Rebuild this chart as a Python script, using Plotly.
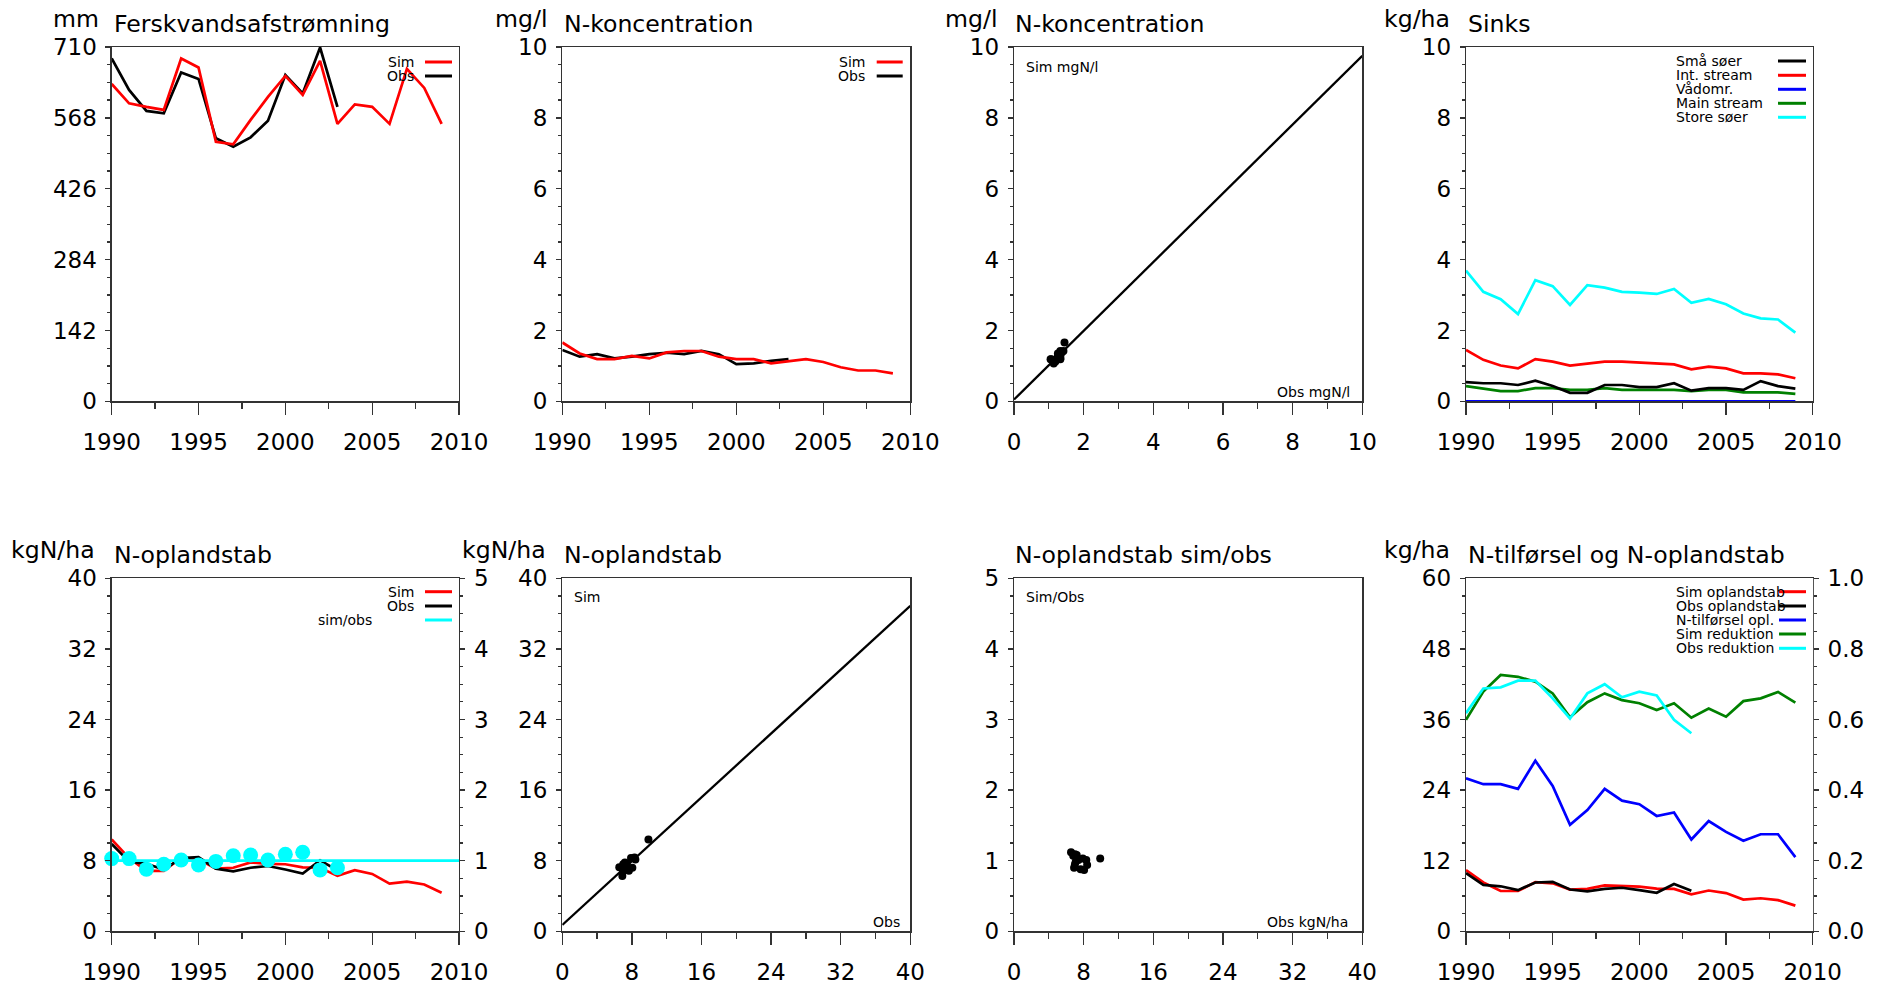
import plotly.graph_objects as go

W, H = 1879, 986
FONT = "DejaVu Sans"
AX = "#333333"

# ---------------- data ----------------
years_sim = list(range(1990, 2010))
years_obs = list(range(1990, 2004))

runoff_sim = [636, 597, 590, 584, 687, 669, 520, 515, 564, 610, 652, 614, 682, 556, 595, 590, 556, 666, 628, 556]
runoff_obs = [687, 624, 582, 577, 659, 646, 527, 510, 529, 562, 654, 617, 709, 590]

conc_sim = [1.66, 1.35, 1.19, 1.19, 1.28, 1.21, 1.38, 1.42, 1.42, 1.26, 1.19, 1.19, 1.07, 1.12,
            1.19, 1.11, 0.96, 0.87, 0.87, 0.79]
conc_obs = [1.45, 1.26, 1.33, 1.21, 1.26, 1.33, 1.37, 1.33, 1.42, 1.33, 1.05, 1.07, 1.14, 1.19]
conc_fit_x = [0, 10]
conc_fit_y = [0.05, 9.75]

sink_sma_soer = [0.54, 0.51, 0.51, 0.46, 0.58, 0.43, 0.24, 0.24, 0.46, 0.46, 0.40, 0.40, 0.51, 0.30,
                 0.37, 0.37, 0.32, 0.57, 0.43, 0.36]
sink_int_stream = [1.45, 1.17, 1.01, 0.93, 1.19, 1.12, 1.01, 1.07, 1.12, 1.12, 1.09, 1.05, 1.04, 0.90,
                   0.98, 0.93, 0.79, 0.79, 0.76, 0.65]
sink_vadomr = [0.0, 0.0, 0.0, 0.0, 0.0, 0.0, 0.0, 0.0, 0.0, 0.0, 0.0, 0.0, 0.0, 0.0,
               0.0, 0.0, 0.0, 0.0, 0.0, 0.0]
sink_main_stream = [0.43, 0.37, 0.29, 0.29, 0.37, 0.37, 0.32, 0.32, 0.37, 0.32, 0.32, 0.32, 0.32, 0.29,
                    0.32, 0.32, 0.25, 0.25, 0.25, 0.21]
sink_store_soer = [3.69, 3.09, 2.88, 2.46, 3.42, 3.25, 2.72, 3.28, 3.21, 3.09, 3.07, 3.03, 3.17, 2.78,
                   2.89, 2.74, 2.48, 2.34, 2.31, 1.94]

loss_sim = [10.4, 8.3, 6.85, 6.85, 8.35, 8.15, 7.1, 7.2, 7.8, 7.65, 7.6, 7.25, 7.2, 6.28,
            6.93, 6.5, 5.4, 5.62, 5.3, 4.37]
loss_obs = [9.9, 7.9, 7.65, 7.0, 8.3, 8.4, 7.1, 6.8, 7.2, 7.4, 7.0, 6.55, 8.05, 6.9]
loss_ratio = [1.03, 1.03, 0.88, 0.95, 1.01, 0.94, 0.99, 1.07, 1.08, 1.01, 1.09, 1.12, 0.87, 0.90]
ratio_ref_x = [1990, 2010]
ratio_ref_y = [1.0, 1.0]
loss_fit_x = [0, 40]
loss_fit_y = [0.72, 36.87]

n_input = [26.0, 25.0, 25.0, 24.2, 29.0, 24.7, 18.1, 20.6, 24.2, 22.2, 21.6, 19.6, 20.2, 15.6,
           18.75, 16.9, 15.4, 16.5, 16.5, 12.6]
red_sim = [0.599, 0.679, 0.726, 0.721, 0.707, 0.674, 0.606, 0.649, 0.674, 0.655, 0.646, 0.627, 0.646, 0.605,
           0.631, 0.608, 0.652, 0.660, 0.678, 0.648]
red_obs = [0.618, 0.688, 0.691, 0.710, 0.710, 0.660, 0.603, 0.674, 0.700, 0.663, 0.679, 0.668, 0.599, 0.561]

# ---------------- layout helpers ----------------
cols = [(111.7, 459.0), (562.3, 910.3), (1014.0, 1362.3), (1466.0, 1812.7)]
rows = [(47.0, 401.3), (578.3, 931.3)]
panels = [(0, 0), (1, 0), (2, 0), (3, 0), (0, 1), (1, 1), (2, 1), (3, 1)]


def fx(p):
    return p / W


def fy(p):
    return 1 - p / H


fig = go.Figure()
annotations = []
shapes = []


def txt(x, y, s, size, xanchor, yanchor="middle"):
    annotations.append(dict(x=fx(x), y=fy(y), xref="paper", yref="paper", text=s, showarrow=False,
                            xanchor=xanchor, yanchor=yanchor, borderpad=0,
                            font=dict(size=size, family=FONT, color="black")))


def legline(x0, x1, y, color):
    shapes.append(dict(type="line", xref="paper", yref="paper", x0=fx(x0), x1=fx(x1), y0=fy(y), y1=fy(y),
                       line=dict(color=color, width=3)))


def xaxis_cfg(i, rng, dtick, minor, tick0=0):
    c, r = panels[i - 1]
    return dict(domain=[fx(cols[c][0]), fx(cols[c][1])], anchor="y%d" % i, range=rng, dtick=dtick,
                tick0=tick0, showline=True, linecolor=AX, linewidth=1.3, mirror=True, ticks="outside",
                ticklen=12, tickwidth=1.3, tickcolor=AX, showgrid=False, zeroline=False,
                automargin=False, ticklabelstandoff=8,
                tickfont=dict(size=23, family=FONT, color="black"),
                minor=dict(dtick=minor, ticks="outside", ticklen=6, tickwidth=1.3, tickcolor=AX, showgrid=False),
                fixedrange=True)


def yaxis_cfg(i, rng, dtick, minor, mirror=True, tickformat=None):
    c, r = panels[i - 1]
    d = dict(domain=[fy(rows[r][1]), fy(rows[r][0])], anchor="x%d" % i, range=rng, dtick=dtick, tick0=0,
             showline=True, linecolor=AX, linewidth=1.3, mirror=mirror, ticks="outside",
             ticklen=5, tickwidth=1.3, tickcolor=AX, showgrid=False, zeroline=False,
             automargin=False, ticklabelstandoff=4,
             tickfont=dict(size=23, family=FONT, color="black"),
             minor=dict(dtick=minor, ticks="outside", ticklen=3, tickwidth=1.3, tickcolor=AX, showgrid=False),
             fixedrange=True)
    if tickformat:
        d["tickformat"] = tickformat
    return d


RED, BLACK, BLUE, GREEN, CYAN = "#ff0000", "#000000", "#0000ff", "#008000", "#00ffff"
LW = 2.7


def line(x, y, color, xa, ya, width=LW):
    fig.add_trace(go.Scatter(x=x, y=y, mode="lines", line=dict(color=color, width=width),
                             xaxis=xa, yaxis=ya, showlegend=False, hoverinfo="skip"))


def dots(x, y, color, size, xa, ya):
    fig.add_trace(go.Scatter(x=x, y=y, mode="markers", marker=dict(color=color, size=size, line=dict(width=0)),
                             xaxis=xa, yaxis=ya, showlegend=False, hoverinfo="skip", cliponaxis=False))


# Panel 1: Ferskvandsafstrømning
line(years_obs, runoff_obs, BLACK, "x", "y")
line(years_sim, runoff_sim, RED, "x", "y")
# Panel 2: N-koncentration
line(years_obs, conc_obs, BLACK, "x2", "y2")
line(years_sim, conc_sim, RED, "x2", "y2")
# Panel 3: scatter conc
line(conc_fit_x, conc_fit_y, BLACK, "x3", "y3", width=2.3)
dots(conc_obs, conc_sim[:len(conc_obs)], BLACK, 8, "x3", "y3")
# Panel 4: Sinks
line(years_sim, sink_store_soer, CYAN, "x4", "y4")
line(years_sim, sink_int_stream, RED, "x4", "y4")
line(years_sim, sink_main_stream, GREEN, "x4", "y4")
line(years_sim, sink_sma_soer, BLACK, "x4", "y4")
line(years_sim, sink_vadomr, BLUE, "x4", "y4")
# Panel 5: N-oplandstab
line(years_sim, loss_sim, RED, "x5", "y5")
line(years_obs, loss_obs, BLACK, "x5", "y5")
line(ratio_ref_x, ratio_ref_y, CYAN, "x5", "y9")
dots(years_obs, loss_ratio, CYAN, 15, "x5", "y9")
# Panel 6: scatter loss
line(loss_fit_x, loss_fit_y, BLACK, "x6", "y6", width=2.3)
dots(loss_obs, loss_sim[:len(loss_obs)], BLACK, 8, "x6", "y6")
# Panel 7: ratio scatter
dots(loss_obs, loss_ratio, BLACK, 8, "x7", "y7")
# Panel 8: N-tilførsel og N-oplandstab
line(years_sim, n_input, BLUE, "x8", "y8")
line(years_sim, loss_sim, RED, "x8", "y8")
line(years_obs, loss_obs, BLACK, "x8", "y8")
line(years_sim, red_sim, GREEN, "x8", "y10")
line(years_obs, red_obs, CYAN, "x8", "y10")

layout = dict(template="none", width=W, height=H, autosize=False, margin=dict(l=0, r=0, t=0, b=0, pad=0),
              paper_bgcolor="white", plot_bgcolor="white", showlegend=False,
              font=dict(family=FONT, color="black"))

layout["xaxis"] = xaxis_cfg(1, [1990, 2010], 5, 2.5, 1990)
layout["yaxis"] = yaxis_cfg(1, [0, 710], 142, 35.5)
layout["xaxis2"] = xaxis_cfg(2, [1990, 2010], 5, 2.5, 1990)
layout["yaxis2"] = yaxis_cfg(2, [0, 10], 2, 0.5)
layout["xaxis3"] = xaxis_cfg(3, [0, 10], 2, 1)
layout["yaxis3"] = yaxis_cfg(3, [0, 10], 2, 0.5)
layout["xaxis4"] = xaxis_cfg(4, [1990, 2010], 5, 2.5, 1990)
layout["yaxis4"] = yaxis_cfg(4, [0, 10], 2, 0.5)
layout["xaxis5"] = xaxis_cfg(5, [1990, 2010], 5, 2.5, 1990)
layout["yaxis5"] = yaxis_cfg(5, [0, 40], 8, 2)
layout["xaxis6"] = xaxis_cfg(6, [0, 40], 8, 4)
layout["yaxis6"] = yaxis_cfg(6, [0, 40], 8, 2)
layout["xaxis7"] = xaxis_cfg(7, [0, 40], 8, 4)
layout["yaxis7"] = yaxis_cfg(7, [0, 5], 1, 0.25)
layout["xaxis8"] = xaxis_cfg(8, [1990, 2010], 5, 2.5, 1990)
layout["yaxis8"] = yaxis_cfg(8, [0, 60], 12, 3)

y9 = yaxis_cfg(5, [0, 5], 1, 0.25, mirror=False)
y9.update(overlaying="y5", side="right", anchor="x5")
layout["yaxis9"] = y9
y10 = yaxis_cfg(8, [0, 1], 0.2, 0.05, mirror=False, tickformat=".1f")
y10.update(overlaying="y8", side="right", anchor="x8", linecolor="#555555")
layout["yaxis10"] = y10

# ---- titles and unit labels ----
TS = 23.6
for (xl, unit_r, ty, s, unit) in [
    (112.7, 100, 0, "Ferskvandsafstrømning", "mm"),
    (563.0, 548, 0, "N-koncentration", "mg/l"),
    (1014.0, 998, 0, "N-koncentration", "mg/l"),
    (1467.0, 1451, 0, "Sinks", "kg/ha"),
    (112.7, 96, 1, "N-oplandstab", "kgN/ha"),
    (563.0, 547, 1, "N-oplandstab", "kgN/ha"),
    (1014.0, None, 1, "N-oplandstab sim/obs", None),
    (1467.0, 1451, 1, "N-tilførsel og N-oplandstab", "kg/ha"),
]:
    base = 32 if ty == 0 else 563
    txt(xl, base - 8, s, TS, "left")
    if unit:
        txt(unit_r, base - 5 - 8, unit, TS, "right")

# ---- legends ----
LS = 14
for yy, lab, col in [(62, "Sim", RED), (76, "Obs", BLACK)]:
    txt(415, yy, lab, LS, "right")
    legline(425, 452, yy, col)
for yy, lab, col in [(62, "Sim", RED), (76, "Obs", BLACK)]:
    txt(866, yy, lab, LS, "right")
    legline(876.7, 902.7, yy, col)
for yy, lab, col in [(61, "Små søer", BLACK), (75.3, "Int. stream", RED), (89.3, "Vådomr.", BLUE),
                     (103.3, "Main stream", GREEN), (117.3, "Store søer", CYAN)]:
    txt(1675, yy, lab, LS, "left")
    legline(1778, 1806, yy, col)
txt(415, 591.7, "Sim", LS, "right")
legline(425, 452, 591.7, RED)
txt(415, 606, "Obs", LS, "right")
legline(425, 452, 606, BLACK)
txt(373, 620, "sim/obs", LS, "right")
legline(425, 452, 620, CYAN)
for yy, lab, col in [(591.7, "Sim oplandstab", RED), (606, "Obs oplandstab", BLACK),
                     (620, "N-tilførsel opl.", BLUE), (634, "Sim reduktion", GREEN),
                     (648.3, "Obs reduktion", CYAN)]:
    txt(1675, yy, lab, LS, "left")
    legline(1779, 1806, yy, col)

# ---- scatter panel labels ----
txt(1024.7, 66.7, "Sim mgN/l", LS, "left")
txt(1350.7, 392, "Obs mgN/l", LS, "right")
txt(573, 596.7, "Sim", LS, "left")
txt(901, 922.3, "Obs", LS, "right")
txt(1025, 596.7, "Sim/Obs", LS, "left")
txt(1349, 922, "Obs kgN/ha", LS, "right")

layout["annotations"] = annotations
layout["shapes"] = shapes
fig.update_layout(**layout)

fig.write_html("out.html", config={"staticPlot": True},
               post_script="document.body.style.margin='0';document.body.style.overflow='hidden';")
